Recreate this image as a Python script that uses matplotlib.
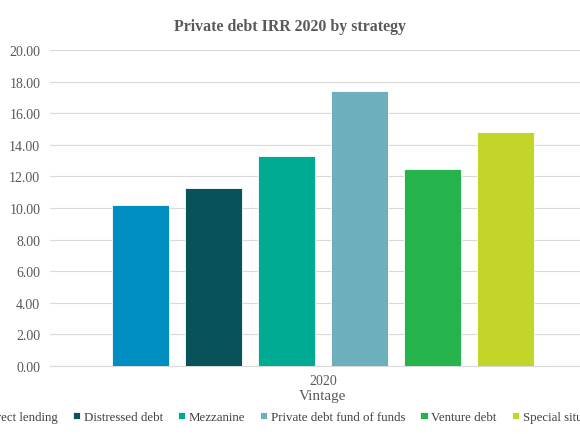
import matplotlib
matplotlib.use("Agg")
import matplotlib.pyplot as plt
import numpy as np

plt.rcParams['font.family'] = ['Liberation Serif', 'DejaVu Serif']

# data
strategies = ["Direct lending", "Distressed debt", "Mezzanine",
              "Private debt fund of funds", "Venture debt", "Special situations"]
irr_2020 = [10.22, 11.24, 13.31, 17.42, 12.48, 14.84]
colours = ["#008dc0", "#08525a", "#00ab94", "#6eafbe", "#25b34b", "#c4d52a"]
vintage = "2020"

fig = plt.figure(figsize=(5.8, 4.35), dpi=100)
ax = fig.add_axes([50 / 580, 68 / 435, 546 / 580, 316 / 435])

grey = "#595959"
n = len(strategies)
offsets = np.arange(n) - (n - 1) / 2
for i in range(n):
    ax.bar(offsets[i], irr_2020[i], width=0.78, color=colours[i],
           edgecolor="white", linewidth=0.6, label=strategies[i], zorder=3)

ax.set_xlim(-3.74, 3.74)
ax.set_ylim(0, 20)
ax.set_yticks(np.arange(0, 21, 2))
ax.set_yticklabels(["%.2f" % v for v in np.arange(0, 21, 2)])
ax.set_xticks([0])
ax.set_xticklabels([vintage])
ax.grid(axis="y", color="#d9d9d9", linewidth=0.8, zorder=0)
for s in ["top", "right", "left"]:
    ax.spines[s].set_visible(False)
ax.spines["bottom"].set_color("#d9d9d9")
ax.tick_params(axis="both", length=0, colors=grey, labelsize=10)
ax.tick_params(axis="y", pad=7)
ax.tick_params(axis="x", pad=6)
ax.set_xlabel("Vintage", color=grey, fontsize=11, labelpad=1)

fig.text(0.5, 1 - 27 / 435, "Private debt IRR 2020 by strategy", ha="center",
         va="center", fontsize=11.4, fontweight="bold", color=grey)

fig.legend(loc="center", bbox_to_anchor=(293 / 580, 1 - 418 / 435), ncol=n,
           frameon=False, fontsize=9.3, handlelength=0.55, handleheight=0.55,
           handletextpad=0.3, columnspacing=1.15, labelcolor="#404040")

fig.savefig("out.png", dpi=100)
